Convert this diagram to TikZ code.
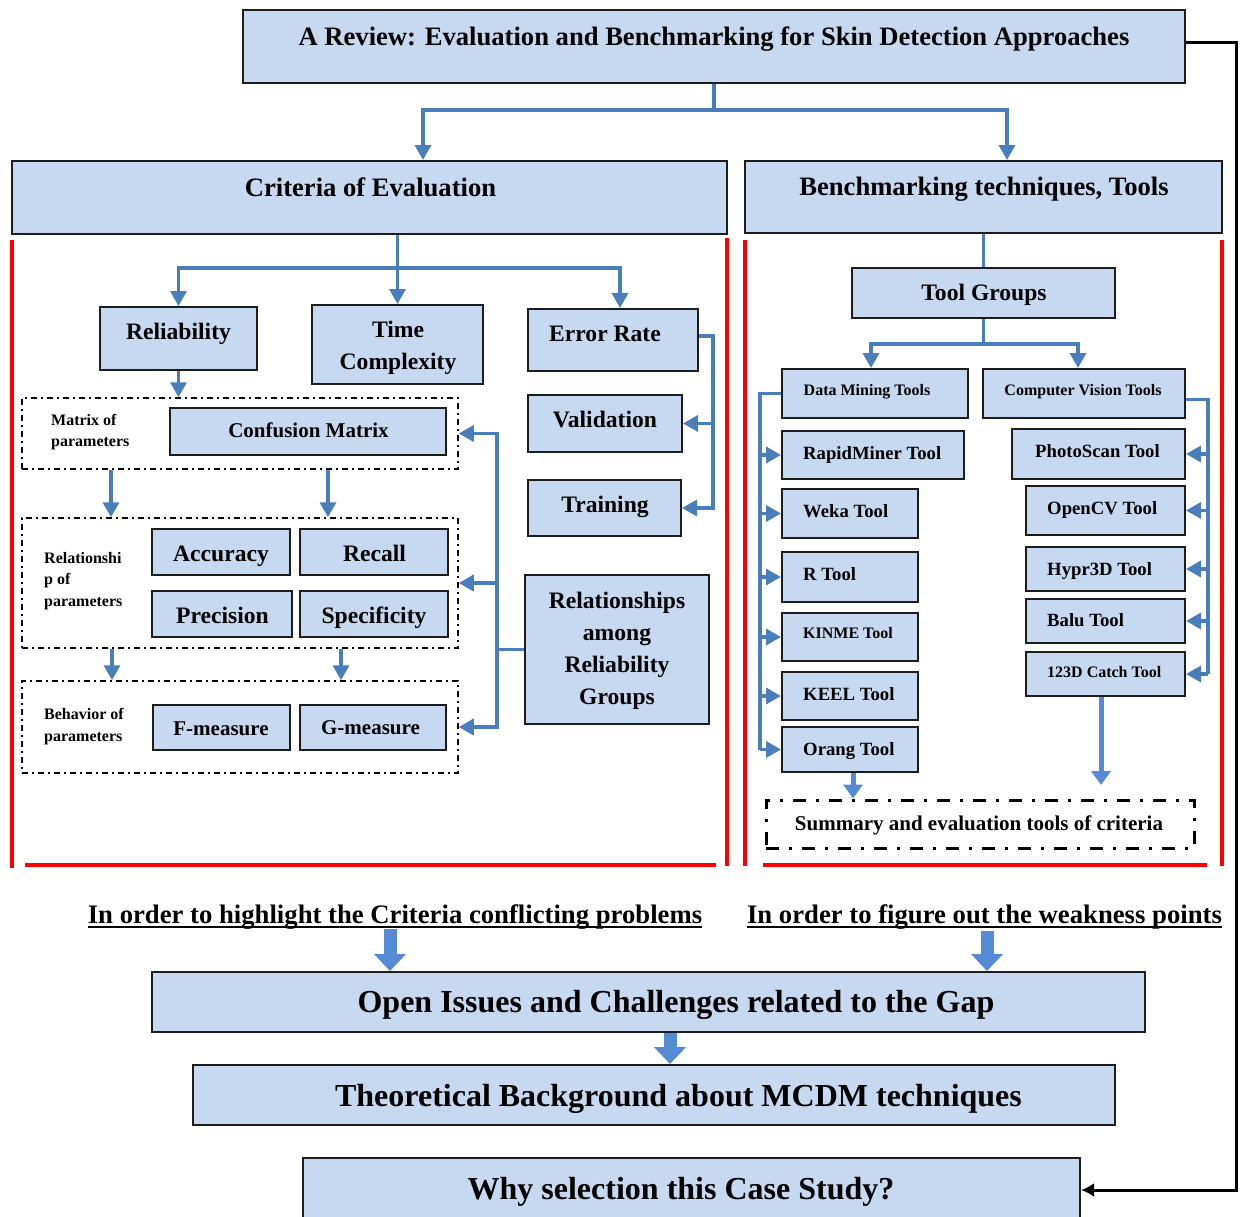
\documentclass[tikz,border=0pt]{standalone}
\usepackage{fontspec}
\setmainfont{Liberation Serif}
\usetikzlibrary{arrows.meta,fit}

\definecolor{boxfill}{HTML}{C6D9F1}
\definecolor{linkblue}{HTML}{4A7EBB}
\definecolor{bigblue}{HTML}{558AD4}
\definecolor{edge}{HTML}{1C1C1C}
\definecolor{frame}{HTML}{FF0000}

\tikzset{
  box/.style={draw=edge, line width=2pt, fill=boxfill, inner sep=0pt},
  grp/.style={draw=black, line width=1.5pt, dash pattern=on 6pt off 4pt on 2pt off 4pt, inner sep=0pt},
  sumbox/.style={draw=black, line width=3pt, dash pattern=on 13pt off 10pt on 3pt off 10pt, inner sep=0pt},
  lbl/.style={inner sep=0pt, anchor=base},
  lblw/.style={inner sep=0pt, anchor=base west},
  multi/.style={inner sep=0pt, anchor=center, align=center},
  f32/.style={font=\fontsize{32}{38}\selectfont\bfseries},
  f266/.style={font=\fontsize{26.6}{32}\selectfont\bfseries},
  f236/.style={font=\fontsize{23.6}{31.5}\selectfont\bfseries},
  f21/.style={font=\fontsize{21}{25}\selectfont\bfseries},
  f187/.style={font=\fontsize{18.7}{22}\selectfont\bfseries},
  f16/.style={font=\fontsize{16}{21.5}\selectfont\bfseries},
  link/.style={draw=linkblue, line width=3.5pt},
  tip/.style={-{Triangle[length=15pt,width=16pt]}},
  drop/.style={draw=bigblue, line width=5pt, -{Triangle[length=14pt,width=19pt]}},
  big/.style={draw=bigblue, line width=13pt, -{Triangle[length=17pt,width=31pt]}},
  redline/.style={draw=frame, line width=3.5pt},
  back/.style={draw=black, line width=3pt, -{Latex[length=13pt,width=14pt]}},
}

\begin{document}
\begin{tikzpicture}[x=1pt,y=-1pt]
\useasboundingbox (0,0) rectangle (1242,1216);
\clip (0,0) rectangle (1242,1216);

% ---------- helper coordinates for buses ----------
\coordinate (jt) at (715,110);
\coordinate (a423) at (423,0);
\coordinate (a1007) at (1007,0);
\coordinate (bl) at (0,268);
\coordinate (e620) at (620,0);
\coordinate (ebus) at (713,0);
\coordinate (rbus) at (497,0);
\coordinate (c111) at (111,0);
\coordinate (c328) at (328,0);
\coordinate (c112) at (112,0);
\coordinate (c341) at (341,0);
\coordinate (br) at (0,344);
\coordinate (a871) at (871,0);
\coordinate (a1078) at (1078,0);
\coordinate (b760) at (760,0);
\coordinate (b1208) at (1208,0);
\coordinate (a853) at (853,0);
\coordinate (a1101) at (1101,0);
\coordinate (sumin) at (1101,785);
\coordinate (a390) at (390,0);
\coordinate (a987) at (987,0);
\coordinate (a670) at (670,0);
\coordinate (rb) at (1236,0);

% ---------- red section frames ----------
\draw[redline] (12,240) -- (12,868);
\draw[redline] (727,238) -- (727,866);
\draw[redline] (25,865) -- (716,865);
\draw[redline] (745,240) -- (745,866);
\draw[redline] (1222,240) -- (1222,866);
\draw[redline] (763,865) -- (1207,865);

% ---------- top level ----------
\node[box, fit={(243,10)(1185,83)}] (title) {};
\node[lbl, f266] (titleT) at (714,45.8) {A Review: Evaluation and Benchmarking for Skin Detection Approaches};

\node[box, fit={(12,161)(727,234)}] (crit) {};
\node[lbl, f266] (critT) at (370.5,196.8) {Criteria of Evaluation};

\node[box, fit={(745,161)(1222,233)}] (bench) {};
\node[lbl, f266] (benchT) at (984,195.8) {Benchmarking techniques, Tools};

\draw[link, tip] (title.south) |- (jt -| a423) -- (crit.north -| a423);
\draw[link, tip] (title.south) |- (jt -| a1007) -- (bench.north -| a1007);

% ---------- criteria of evaluation ----------
\node[box, fit={(100,307)(257,370)}] (rely) {};
\node[lbl, f236] (relyT) at (178.5,339.8) {Reliability};

\node[box, fit={(312,305)(483,384)}] (time) {};
\node[multi, f236] (timeT) at (398,348) {Time\\Complexity};

\node[box, fit={(528,309)(698,371)}] (err) {};
\node[lbl, f236] (errT) at (605,341.8) {Error Rate};

\node[box, fit={(528,395)(682,452)}] (val) {};
\node[lbl, f236] (valT) at (605,427.8) {Validation};

\node[box, fit={(528,480)(681,536)}] (train) {};
\node[lbl, f236] (trainT) at (605,512.8) {Training};

\node[box, fit={(525,575)(709,724)}] (grpRel) {};
\node[multi, font=\fontsize{23.6}{32}\selectfont\bfseries] (grpRelT) at (617,650.5) {Relationships\\among\\Reliability\\Groups};

\draw[link, tip] (crit.south -| time.north) -- (time.north);
\draw[link, tip] (crit.south -| time.north) |- (bl -| rely.north) -- (rely.north);
\draw[link, tip] (crit.south -| time.north) |- (bl -| e620) -- (err.north -| e620);

\draw[link, tip] ([yshift=4pt]err.east) -| (train.east -| ebus) -- (train.east);
\draw[link, tip] (val.east -| ebus) -- (val.east);

% matrix of parameters
\node[grp, fit={(22,398)(458,469)}] (d1) {};
\node[multi, f16, align=left, anchor=west] (d1T) at (51,432) {Matrix of\\parameters};
\node[box, fit={(170,408)(446,455)}] (conf) {};
\node[lbl, f21] (confT) at (308.5,437.9) {Confusion Matrix};

% relationship of parameters
\node[grp, fit={(22,518)(458,648)}] (d2) {};
\node[multi, f16, align=left, anchor=west] (d2T) at (44,581) {Relationshi\\p of\\parameters};
\node[box, fit={(152,529)(290,575)}] (acc) {};
\node[lbl, f236] (accT) at (221,561.8) {Accuracy};
\node[box, fit={(300,529)(448,575)}] (rec) {};
\node[lbl, f236] (recT) at (374.5,561.8) {Recall};
\node[box, fit={(152,591)(292,637)}] (prec) {};
\node[lbl, f236] (precT) at (222.5,623.8) {Precision};
\node[box, fit={(300,591)(448,637)}] (spec) {};
\node[lbl, f236] (specT) at (374,623.8) {Specificity};

% behavior of parameters
\node[grp, fit={(22,681)(458,773)}] (d3) {};
\node[multi, f16, align=left, anchor=west] (d3T) at (44,726.5) {Behavior of\\parameters};
\node[box, fit={(153,705)(290,750)}] (fm) {};
\node[lbl, f21] (fmT) at (221,735.9) {F-measure};
\node[box, fit={(300,705)(446,750)}] (gm) {};
\node[lbl, f21] (gmT) at (370.5,734.9) {G-measure};

\draw[link, tip] (rely.south) -- (rely.south |- d1.north);
\draw[link, tip] (c111 |- d1.south) -- (c111 |- d2.north);
\draw[link, tip] (c328 |- d1.south) -- (c328 |- d2.north);
\draw[link, tip] (c112 |- d2.south) -- (c112 |- d3.north);
\draw[link, tip] (c341 |- d2.south) -- (c341 |- d3.north);

\draw[link, tip] (grpRel.west) -| (d1.east -| rbus) -- (d1.east);
\draw[link, tip] (grpRel.west -| rbus) |- (d3.east);
\draw[link, tip] (d2.east -| rbus) -- (d2.east);

% ---------- benchmarking tools ----------
\node[box, fit={(852,268)(1115,318)}] (tg) {};
\node[lbl, f236] (tgT) at (984,300.8) {Tool Groups};
\draw[link] (bench.south -| tg.north) -- (tg.north);

\node[box, fit={(782,369)(968,418)}] (dm) {};
\node[lbl, f16] (dmT) at (867,395.3) {Data Mining Tools};
\node[box, fit={(983,369)(1185,418)}] (cv) {};
\node[lbl, f16] (cvT) at (1083,395.3) {Computer Vision Tools};

\draw[link, tip] (tg.south) |- (br -| a871) -- (dm.north -| a871);
\draw[link, tip] (tg.south) |- (br -| a1078) -- (cv.north -| a1078);

% data mining tools
\node[box, fit={(782,431)(964,479)}] (rm) {};
\node[lblw, f187] (rmT) at (803,459.2) {RapidMiner Tool};
\node[box, fit={(782,489)(918,538)}] (weka) {};
\node[lblw, f187] (wekaT) at (803,517.2) {Weka Tool};
\node[box, fit={(782,552)(918,602)}] (rtool) {};
\node[lblw, f187] (rtoolT) at (803,580.2) {R Tool};
\node[box, fit={(782,613)(918,661)}] (kinme) {};
\node[lblw, f16] (kinmeT) at (803,638.3) {KINME Tool};
\node[box, fit={(782,672)(918,720)}] (keel) {};
\node[lblw, f187] (keelT) at (803,700.2) {KEEL Tool};
\node[box, fit={(782,727)(918,772)}] (orang) {};
\node[lblw, f187] (orangT) at (803,755.2) {Orang Tool};

\draw[link] (dm.west) -- (dm.west -| b760) -- (b760 |- orang.west);
\foreach \t in {rm,weka,rtool,kinme,keel,orang}
  \draw[link, tip] (b760 |- \t.west) -- (\t.west);

% computer vision tools
\node[box, fit={(1012,429)(1185,479)}] (photo) {};
\node[lblw, f187] (photoT) at (1035,457.2) {PhotoScan Tool};
\node[box, fit={(1026,486)(1185,535)}] (ocv) {};
\node[lblw, f187] (ocvT) at (1047,514.2) {OpenCV Tool};
\node[box, fit={(1026,547)(1185,591)}] (hypr) {};
\node[lblw, f187] (hyprT) at (1047,575.2) {Hypr3D Tool};
\node[box, fit={(1026,599)(1185,643)}] (balu) {};
\node[lblw, f187] (baluT) at (1047,626.2) {Balu Tool};
\node[box, fit={(1026,652)(1185,696)}] (catch) {};
\node[lblw, f16] (catchT) at (1047,677.3) {123D Catch Tool};

\draw[link] ([yshift=-6pt]cv.east) -- ([yshift=-6pt]cv.east -| b1208) -- (b1208 |- catch.east);
\foreach \t in {photo,ocv,hypr,balu,catch}
  \draw[link, tip] (b1208 |- \t.east) -- (\t.east);

% summary
\node[sumbox, fit={(766,800)(1194,848)}] (sum) {};
\node[lbl, f21] (sumT) at (979,830.9) {Summary and evaluation tools of criteria};

\draw[drop] (orang.south -| a853) -- (sum.north -| a853);
\draw[drop] (catch.south -| a1101) -- (sumin);

% ---------- purposes and follow-up steps ----------
\node[lbl, font=\fontsize{26.7}{32}\selectfont\bfseries] (u1) at (395,923.8) {In order to highlight the Criteria conflicting problems};
\draw[line width=2.2pt] ([yshift=-3.5pt]u1.base west) -- ([yshift=-3.5pt]u1.base east);
\node[lbl, font=\fontsize{26.7}{32}\selectfont\bfseries] (u2) at (984.5,923.8) {In order to figure out the weakness points};
\draw[line width=2.2pt] ([yshift=-3.5pt]u2.base west) -- ([yshift=-3.5pt]u2.base east);

\node[box, fit={(152,972)(1145,1032)}] (open) {};
\node[lbl, f32] (openT) at (676,1012.6) {Open Issues and Challenges related to the Gap};

\node[box, fit={(193,1065)(1115,1125)}] (theo) {};
\node[lbl, f32] (theoT) at (678.5,1106.6) {Theoretical Background about MCDM techniques};

\node[box, fit={(303,1158)(1080,1222)}] (why) {};
\node[lbl, f32] (whyT) at (681,1199.6) {Why selection this Case Study?};

\draw[big] ([yshift=-5pt]u1.base -| a390) -- (open.north -| a390);
\draw[big] ([yshift=-7pt]u2.base -| a987) -- (open.north -| a987);
\draw[big] (open.south -| a670) -- (theo.north -| a670);

\draw[back] ([yshift=4pt]title.east) -| (why.east -| rb) -- (why.east);

\end{tikzpicture}
\end{document}
